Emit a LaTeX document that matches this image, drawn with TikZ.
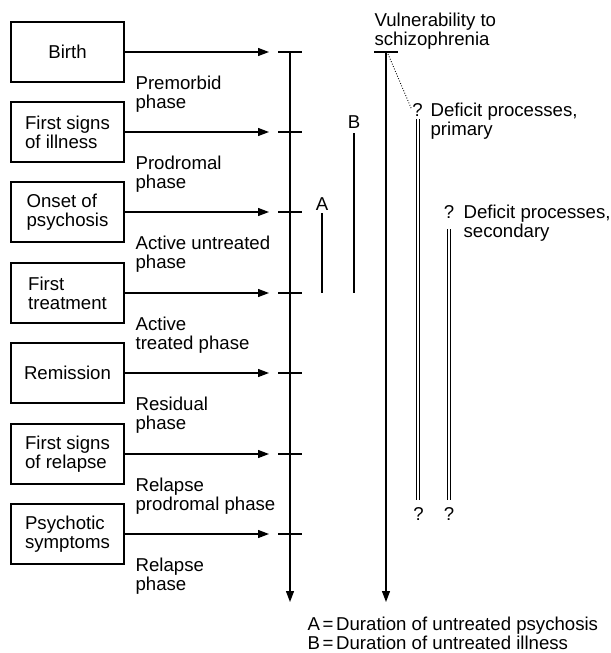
\documentclass[tikz,border=0pt]{standalone}
\usepackage{fontspec}
\setmainfont{Liberation Sans}
\usetikzlibrary{arrows.meta}

\tikzset{
  eventbox/.style={draw, line width=0.7pt, minimum width=2.26cm, minimum height=1.2cm, align=left, inner sep=0pt},
  phase/.style={anchor=base west, align=left, inner sep=0pt},
  pointer/.style={-{Triangle[length=2.2mm,width=1.6mm]}, line width=0.7pt},
  bar/.style={line width=1.6pt},
  dbl/.style={double, line width=0.45pt, double distance=0.9pt},
}

\begin{document}
\begin{tikzpicture}[x=0.02cm,y=-0.02cm,line width=0.7pt,font=\fontsize{10.6}{10.8}\selectfont]
\useasboundingbox (0,0) rectangle (611,653);
%events
\node[eventbox] (birth)   at (67.5,52)  {Birth};
\node[eventbox] (signs)   at (67.5,132) {First signs\\of illness};
\node[eventbox] (onset)   at (67.5,212) {Onset of\\psychosis};
\node[eventbox] (treat)   at (67.5,293) {First\\treatment};
\node[eventbox] (remis)   at (67.5,373) {Remission};
\node[eventbox] (relapse) at (67.5,454) {First signs\\of relapse};
\node[eventbox] (psych)   at (67.5,534) {Psychotic\\symptoms};
%time axis
\coordinate (t0) at (290,52);
\coordinate (tend) at (290,602);
\draw[pointer] (t0) -- (tend);
\foreach \e in {birth,signs,onset,treat,remis,relapse,psych}{
  \coordinate (tk-\e) at (\e.east -| t0);
  \draw[pointer, shorten >=0.42cm] (\e.east) -- (tk-\e);
  \draw ([xshift=-0.24cm]tk-\e) -- ([xshift=0.24cm]tk-\e);
}
%phases (base = last line)
\node[phase] (pre)  at (135,108) {Premorbid\\phase};
\node[phase] (prod) at (135,188) {Prodromal\\phase};
\node[phase] (unt)  at (135,268) {Active untreated\\phase};
\node[phase] (trt)  at (135,349) {Active\\treated phase};
\node[phase] (res)  at (135,429) {Residual\\phase};
\node[phase] (rprod) at (135,510) {Relapse\\prodromal phase};
\node[phase] (rel)  at (135,590) {Relapse\\phase};
%A and B
\coordinate (Atop) at (322,213); \coordinate (Abot) at (322,293);
\coordinate (Btop) at (354,133); \coordinate (Bbot) at (354,293);
\draw[bar] (Atop) -- (Abot);
\draw[bar] (Btop) -- (Bbot);
\node[anchor=base, inner sep=0pt] (labA) at (322,210) {A};
\node[anchor=base, inner sep=0pt] (labB) at (354,128) {B};
%vulnerability
\coordinate (v0) at (386,52);
\coordinate (vend) at (386,602);
\draw ([xshift=-0.24cm]v0) -- ([xshift=0.24cm]v0);
\draw[pointer] (v0) -- (vend);
\node[phase] (vuln) at (374,45) {Vulnerability to\\schizophrenia};
%deficit processes
\node[anchor=base, inner sep=0pt] (q1) at (417.5,116) {?};
\node[phase] (prim) at (430,135) {Deficit processes,\\primary};
\node[anchor=base, inner sep=0pt] (q2) at (449,218) {?};
\node[phase] (sec) at (463,237) {Deficit processes,\\secondary};
\coordinate (d1top) at (418,119); \coordinate (d1bot) at (418,500);
\coordinate (d2top) at (449,229); \coordinate (d2bot) at (449,500);
\draw[dbl] (d1top) -- (d1bot);
\draw[dbl] (d2top) -- (d2bot);
\node[anchor=base, inner sep=0pt] (q3) at (418.5,520) {?};
\node[anchor=base, inner sep=0pt] (q4) at (449,520) {?};
\draw[densely dotted, line width=0.5pt] ([xshift=0.04cm,yshift=-0.04cm]v0) -- (q1.west);
%legend
\node[phase] (legend) at (307,649) {A\hspace{1.5pt}=\hspace{1.5pt}Duration of untreated psychosis\\B\hspace{1.5pt}=\hspace{1.5pt}Duration of untreated illness};
\end{tikzpicture}
\end{document}
